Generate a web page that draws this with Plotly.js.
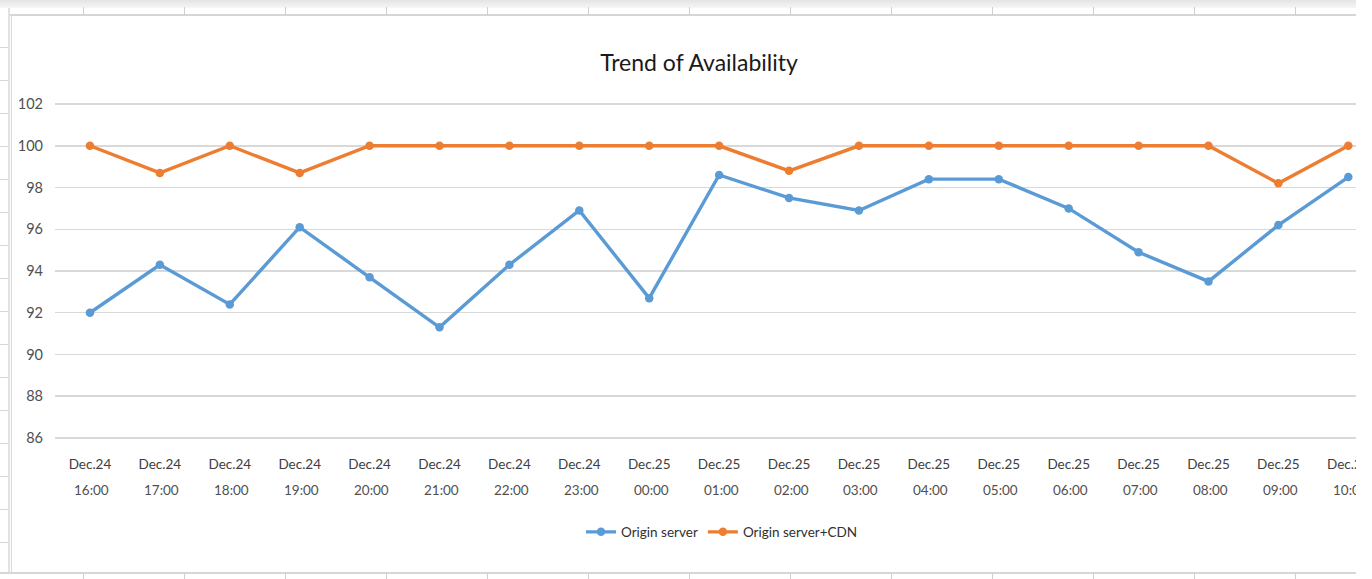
<!DOCTYPE html>
<html>
<head>
<meta charset="utf-8">
<script src="https://cdn.plot.ly/plotly-3.0.1.min.js"></script>
<style>
  html, body { margin: 0; padding: 0; background: #ffffff; width: 1372px; height: 579px; overflow: hidden; }
  #wrap { position: relative; width: 1372px; height: 579px; }
  .deco { position: absolute; }
  #chart { position: absolute; left: 0; top: 0; width: 1372px; height: 579px; }
  #cover { position: absolute; left: 1356px; top: 0; width: 16px; height: 579px; background: #ffffff; z-index: 10; }
</style>
</head>
<body>
<div id="wrap">
  <div class="deco" style="left:0;top:0;width:1356px;height:8px;background:linear-gradient(#e4e4e4,#f6f6f6);"></div>
  <div class="deco" style="left:8px;top:14px;width:1348px;height:2px;background:#d6d6d6;"></div>
  <div class="deco" style="left:8px;top:8px;width:2px;height:565px;background:#e2e2e2;"></div>
  <div class="deco" style="left:11px;top:15px;width:1px;height:558px;background:#d9d9d9;"></div>
  <div class="deco" style="left:0;top:572px;width:1356px;height:2px;background:#d6d6d6;"></div>
  <div id="ticks"></div>
  <div id="chart"></div>
  <div id="cover"></div>
</div>
<script>
// ---- data ----
var days  = ["Dec.24","Dec.24","Dec.24","Dec.24","Dec.24","Dec.24","Dec.24","Dec.24",
             "Dec.25","Dec.25","Dec.25","Dec.25","Dec.25","Dec.25","Dec.25","Dec.25","Dec.25","Dec.25","Dec.25"];
var hours = ["16:00","17:00","18:00","19:00","20:00","21:00","22:00","23:00",
             "00:00","01:00","02:00","03:00","04:00","05:00","06:00","07:00","08:00","09:00","10:00"];
var originServer = [92.0, 94.3, 92.4, 96.1, 93.7, 91.3, 94.3, 96.9, 92.7, 98.6,
                    97.5, 96.9, 98.4, 98.4, 97.0, 94.9, 93.5, 96.2, 98.5];
var originCDN    = [100, 98.7, 100, 98.7, 100, 100, 100, 100, 100, 100,
                    98.8, 100, 100, 100, 100, 100, 100, 98.2, 100];
var yTicks = [86, 88, 90, 92, 94, 96, 98, 100, 102];
var titleText = "Trend of Availability";
var seriesNames = ["Origin server", "Origin server+CDN"];

// ---- spreadsheet-like decoration (cell borders) ----
(function(){
  var t = document.getElementById('ticks');
  var html = '';
  for (var x = 83; x < 1356; x += 101) {
    html += '<div class="deco" style="left:'+x+'px;top:7px;width:1px;height:8px;background:#cfcfcf;"></div>';
    html += '<div class="deco" style="left:'+x+'px;top:573px;width:1px;height:6px;background:#cfcfcf;"></div>';
  }
  for (var y = 47; y < 573; y += 33) {
    html += '<div class="deco" style="left:0px;top:'+y+'px;width:8px;height:1px;background:#d6d6d6;"></div>';
  }
  t.innerHTML = html;
})();

var cats = days.map(function(d, i){ return d + " " + hours[i]; });

var FONT = 'Lato, "Open Sans", sans-serif';
var blue = '#5B9BD5', orange = '#ED7D31';

var traces = [
  { x: cats, y: originServer, name: seriesNames[0], type: 'scatter', mode: 'lines+markers',
    line: { color: blue, width: 3.4 }, marker: { color: blue, size: 8.5 }, cliponaxis: false },
  { x: cats, y: originCDN, name: seriesNames[1], type: 'scatter', mode: 'lines+markers',
    line: { color: orange, width: 3.4 }, marker: { color: orange, size: 8.5 }, cliponaxis: false }
];

var annotations = cats.map(function(c, i){
  return { x: c, xref: 'x', y: 0, yref: 'paper', yshift: -51, xshift: 2, yanchor: 'middle',
           text: hours[i], showarrow: false,
           font: { family: FONT, size: 13.5, color: '#505050' } };
});

var layout = {
  width: 1372, height: 579,
  margin: { l: 55, r: 16, t: 103, b: 140 },
  paper_bgcolor: 'rgba(0,0,0,0)',
  plot_bgcolor: 'rgba(0,0,0,0)',
  title: { text: titleText, xref: 'container', yref: 'container', x: 0.5095, y: 0.891,
           xanchor: 'center', yanchor: 'middle',
           font: { family: FONT, size: 23, color: '#1a1a1a' } },
  xaxis: { type: 'category', range: [-0.5, 18.11], tickvals: cats, ticktext: days,
           showgrid: false, zeroline: false, showline: false, ticks: '',
           ticklabelstandoff: 15,
           tickfont: { family: FONT, size: 13.5, color: '#404040' }, fixedrange: true },
  yaxis: { range: [85.95, 102.05], tickvals: yTicks, ticktext: yTicks.map(String),
           showgrid: true, gridcolor: '#d9d9d9', gridwidth: 1.5, zeroline: false, showline: false,
           ticks: '', ticklabelstandoff: 11,
           tickfont: { family: FONT, size: 14.5, color: '#505050' }, fixedrange: true },
  showlegend: true,
  legend: { orientation: 'h', x: 0.5127, xanchor: 'center', y: -0.277, yanchor: 'middle',
            font: { family: FONT, size: 13.5, color: '#303030' }, bgcolor: 'rgba(0,0,0,0)',
            itemwidth: 30, traceorder: 'normal' },
  annotations: annotations
};

Plotly.newPlot('chart', traces, layout, { displayModeBar: false, staticPlot: true });
</script>
</body>
</html>
